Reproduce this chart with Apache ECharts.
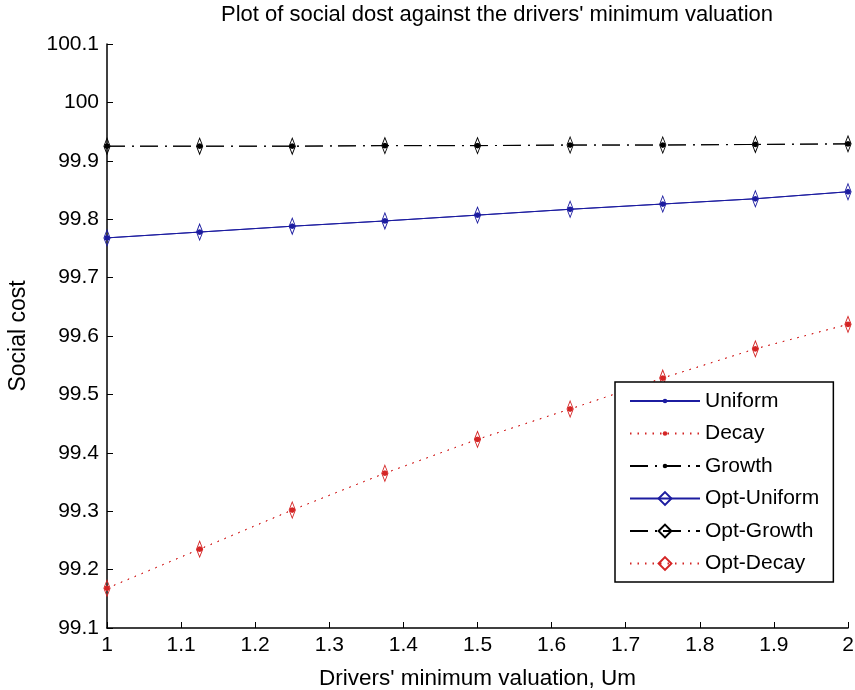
<!DOCTYPE html>
<html><head><meta charset="utf-8">
<script src="https://cdn.jsdelivr.net/npm/echarts@6/dist/echarts.min.js"></script>
<style>html,body{margin:0;padding:0;background:#fff}#c{width:855px;height:690px}</style>
</head><body><div id="c"></div>
<script>
const xValues = [1, 1.125, 1.25, 1.375, 1.5, 1.625, 1.75, 1.875, 2];
const uniform = [99.768, 99.778, 99.788, 99.797, 99.807, 99.817, 99.826, 99.835, 99.847];
const decay = [99.168, 99.235, 99.302, 99.365, 99.423, 99.475, 99.528, 99.578, 99.620];
const growth = [99.925, 99.925, 99.925, 99.926, 99.926, 99.927, 99.927, 99.928, 99.929];
const seriesNames = ['Uniform', 'Decay', 'Growth', 'Opt-Uniform', 'Opt-Growth', 'Opt-Decay'];
const titleText = "Plot of social dost against the drivers' minimum valuation";
const xName = "Drivers' minimum valuation, Um";
const yName = 'Social cost';

const BLUE = '#1c1ca0', RED = '#d42424', BLACK = '#000';
const FONT = 'Liberation Sans';
const DOT = 'path://M0 0M10 10M5 3.2L6.3 3.7L6.8 5L6.3 6.3L5 6.8L3.7 6.3L3.2 5L3.7 3.7Z';
const DIAMOND = 'path://M5 0L10 8L5 16L0 8Z';
const DASHDOT = [18, 7, 2, 6];
const DOTTED = [1.5, 6];

function pairs(ys) { return xValues.map((x, i) => [x, ys[i]]); }

function mk(name, ys, color, dash, marker) {
  const s = {
    name, type: 'line', data: pairs(ys), z: marker === 'dot' ? 2 : 3,
    lineStyle: { color, width: 1, type: dash },
    emphasis: { disabled: true }, animation: false
  };
  if (marker === 'dot') {
    s.symbol = DOT; s.symbolSize = 16;
    s.itemStyle = { color, borderWidth: 0 };
  } else {
    s.symbol = DIAMOND; s.symbolSize = [10, 16]; s.symbolKeepAspect = true;
    s.itemStyle = { color: 'rgba(255,255,255,0)', borderColor: color, borderWidth: 1 };
  }
  return s;
}

const chart = echarts.init(document.getElementById('c'), null, { renderer: 'canvas' });
chart.setOption({
  backgroundColor: '#fff',
  animation: false,
  title: {
    text: titleText, left: 492, top: -1, textAlign: 'center',
    textStyle: { fontFamily: FONT, fontSize: 22, fontWeight: 'normal', color: '#000' }
  },
  grid: { left: 107, right: 7, top: 44, bottom: 62, containLabel: false, outerBoundsMode: 'none' },
  xAxis: {
    type: 'value', min: 1, max: 2, interval: 0.1,
    name: xName, nameLocation: 'middle', nameGap: 39,
    nameTextStyle: { fontFamily: FONT, fontSize: 22.5, color: '#000' },
    axisLine: { onZero: false, lineStyle: { color: '#000', width: 1.5 } },
    axisTick: { inside: true, length: 6, lineStyle: { color: '#000' } },
    axisLabel: { fontFamily: FONT, fontSize: 21, color: '#000', margin: 7 },
    splitLine: { show: false }
  },
  yAxis: {
    type: 'value', min: 99.1, max: 100.1, interval: 0.1,
    name: yName, nameLocation: 'middle', nameGap: 77, nameRotate: 90,
    nameTextStyle: { fontFamily: FONT, fontSize: 23, color: '#000' },
    axisLine: { show: true, onZero: false, lineStyle: { color: '#000', width: 1.5 } },
    axisTick: { show: true, inside: true, length: 6, lineStyle: { color: '#000' } },
    axisLabel: { fontFamily: FONT, fontSize: 21, color: '#000', margin: 8 },
    splitLine: { show: false }
  },
  legend: {
    data: seriesNames, orient: 'vertical', left: 615, top: 382,
    itemWidth: 70, itemHeight: 16, itemGap: 11.5,
    padding: [8.5, 14, 8, 14],
    borderColor: '#000', borderWidth: 1.5, backgroundColor: '#fff',
    textStyle: { fontFamily: FONT, fontSize: 21, color: '#000' },
    selectedMode: false
  },
  series: [
    mk('Uniform', uniform, BLUE, 'solid', 'dot'),
    mk('Decay', decay, RED, DOTTED, 'dot'),
    mk('Growth', growth, BLACK, DASHDOT, 'dot'),
    mk('Opt-Uniform', uniform, BLUE, 'solid', 'diamond'),
    mk('Opt-Growth', growth, BLACK, DASHDOT, 'diamond'),
    mk('Opt-Decay', decay, RED, DOTTED, 'diamond')
  ]
});
</script></body></html>
